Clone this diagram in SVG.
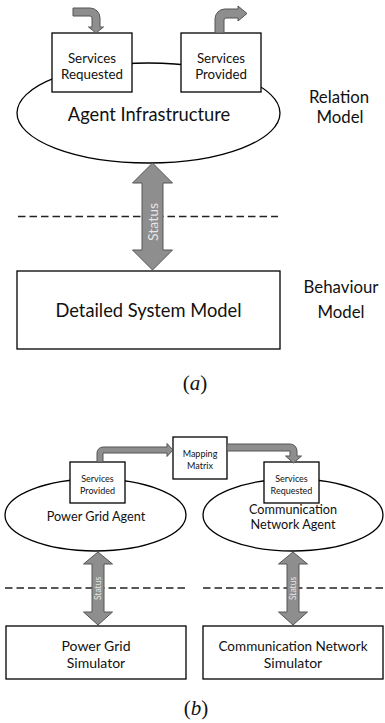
<svg xmlns="http://www.w3.org/2000/svg" width="385" height="723" viewBox="0 0 385 723">
<style>
.bx{fill:#fff;stroke:#000;stroke-width:1.3}
.el{fill:#fff;stroke:#000;stroke-width:1.3}
.ar{fill:#8e8e8e;stroke:#555;stroke-width:1}
.dash{stroke:#222;stroke-width:1.4;stroke-dasharray:7.5 4;fill:none}
text{font-family:Lato,"Open Sans","Liberation Sans",sans-serif;fill:#111;text-anchor:middle}
.st{fill:#e6e6e6}
.cap{font-family:"Liberation Serif","DejaVu Serif",serif;font-size:21px;fill:#111}
</style>
<rect width="385" height="723" fill="#fff"/>
<!-- (a) -->
<g id="agent-infrastructure">
<ellipse class="el" cx="148.5" cy="113" rx="131.5" ry="50"/>
<text x="149" y="121" font-size="18.3">Agent Infrastructure</text>
</g>
<g id="services-requested-a">
<rect class="bx" x="52" y="33" width="80" height="59"/>
<text x="92" y="63" font-size="13.3">Services</text>
<text x="92" y="79" font-size="13.3">Requested</text>
</g>
<g id="services-provided-a">
<rect class="bx" x="181" y="33" width="80" height="59"/>
<text x="221" y="63" font-size="13.3">Services</text>
<text x="221" y="79" font-size="13.3">Provided</text>
</g>
<g id="relation-model">
<text x="339" y="103" font-size="16.8">Relation</text>
<text x="340" y="123" font-size="16.8">Model</text>
</g>
<g id="detailed-system-model">
<rect class="bx" x="17" y="271" width="263" height="78"/>
<text x="148.5" y="317" font-size="18.3">Detailed System Model</text>
</g>
<g id="behaviour-model">
<text x="341" y="293" font-size="16.8">Behaviour</text>
<text x="341" y="318" font-size="16.8">Model</text>
</g>
<text class="cap" x="195" y="390">(<tspan font-style="italic">a</tspan>)</text>
<!-- (b) -->
<g id="power-grid-agent">
<ellipse class="el" cx="95.5" cy="515" rx="90.5" ry="36"/>
<text x="96" y="521" font-size="12.7">Power Grid Agent</text>
</g>
<g id="comm-network-agent">
<ellipse class="el" cx="293" cy="515" rx="90" ry="36"/>
<text x="293" y="514" font-size="12.7">Communication</text>
<text x="293" y="529" font-size="12.7">Network Agent</text>
</g>
<g id="services-provided-b">
<rect class="bx" x="70" y="462" width="55" height="41"/>
<text x="97.5" y="482" font-size="9">Services</text>
<text x="97.5" y="494" font-size="9">Provided</text>
</g>
<g id="services-requested-b">
<rect class="bx" x="264" y="462" width="55" height="41"/>
<text x="291.5" y="482" font-size="9">Services</text>
<text x="291.5" y="494" font-size="9">Requested</text>
</g>
<g id="mapping-matrix">
<rect class="bx" x="173" y="437" width="54" height="42"/>
<text x="200" y="457" font-size="9">Mapping</text>
<text x="200" y="469" font-size="9">Matrix</text>
</g>
<g id="power-grid-simulator">
<rect class="bx" x="6" y="626" width="180" height="53"/>
<text x="96" y="651" font-size="14">Power Grid</text>
<text x="96" y="668" font-size="14">Simulator</text>
</g>
<g id="comm-network-simulator">
<rect class="bx" x="203" y="626" width="180" height="53"/>
<text x="293" y="651" font-size="13.5">Communication Network</text>
<text x="293" y="668" font-size="14">Simulator</text>
</g>
<text class="cap" x="196" y="715">(<tspan font-style="italic">b</tspan>)</text>
<!-- connectors -->
<g id="connectors">
<line class="dash" x1="18" y1="216.5" x2="278" y2="216.5"/>
<line class="dash" x1="5" y1="588" x2="185" y2="588"/>
<line class="dash" x1="203" y1="588" x2="383" y2="588"/>
<path class="ar" d="M73,8 L90,8 A10,10 0 0 1 100,18 L100,27 L103.5,27 L96,33 L88.5,27 L92,27 L92,18 A2,2 0 0 0 90,16 L73,16 Z"/>
<path class="ar" d="M215,33 L215,19 A10,10 0 0 1 225,9 L238,9 L238,6 L247,13.5 L238,21 L238,18 L226,18 A2,2 0 0 0 224,20 L224,33 Z"/>
<path class="ar" d="M152.5,163 L172.5,183 L163,183 L163,250 L172.5,250 L152.5,270 L132.5,250 L142,250 L142,183 L132.5,183 Z"/>
<text class="st" transform="translate(153,222) rotate(-90)" y="4.8" font-size="14">Status</text>
<path class="ar" d="M97,462 L97,453 A6,6 0 0 1 103,447 L167,447 L167,443.5 L173,450 L167,456.5 L167,453 L103,453 L103,462 Z"/>
<path class="ar" d="M227,444 L290,444 A7,7 0 0 1 297,451 L297,456 L301.5,456 L293.5,463 L285.5,456 L290,456 L290,451 L227,451 Z"/>
<path class="ar" d="M98,552 L112.5,564 L104,564 L104,612 L112.5,612 L98,625 L83.5,612 L92,612 L92,564 L83.5,564 Z"/>
<text class="st" transform="translate(98,588.5) rotate(-90)" y="3" font-size="8.5">Status</text>
<path class="ar" d="M293,552 L307.5,564 L299,564 L299,612 L307.5,612 L293,625 L278.5,612 L287,612 L287,564 L278.5,564 Z"/>
<text class="st" transform="translate(293,588.5) rotate(-90)" y="3" font-size="8.5">Status</text>
</g>
</svg>
